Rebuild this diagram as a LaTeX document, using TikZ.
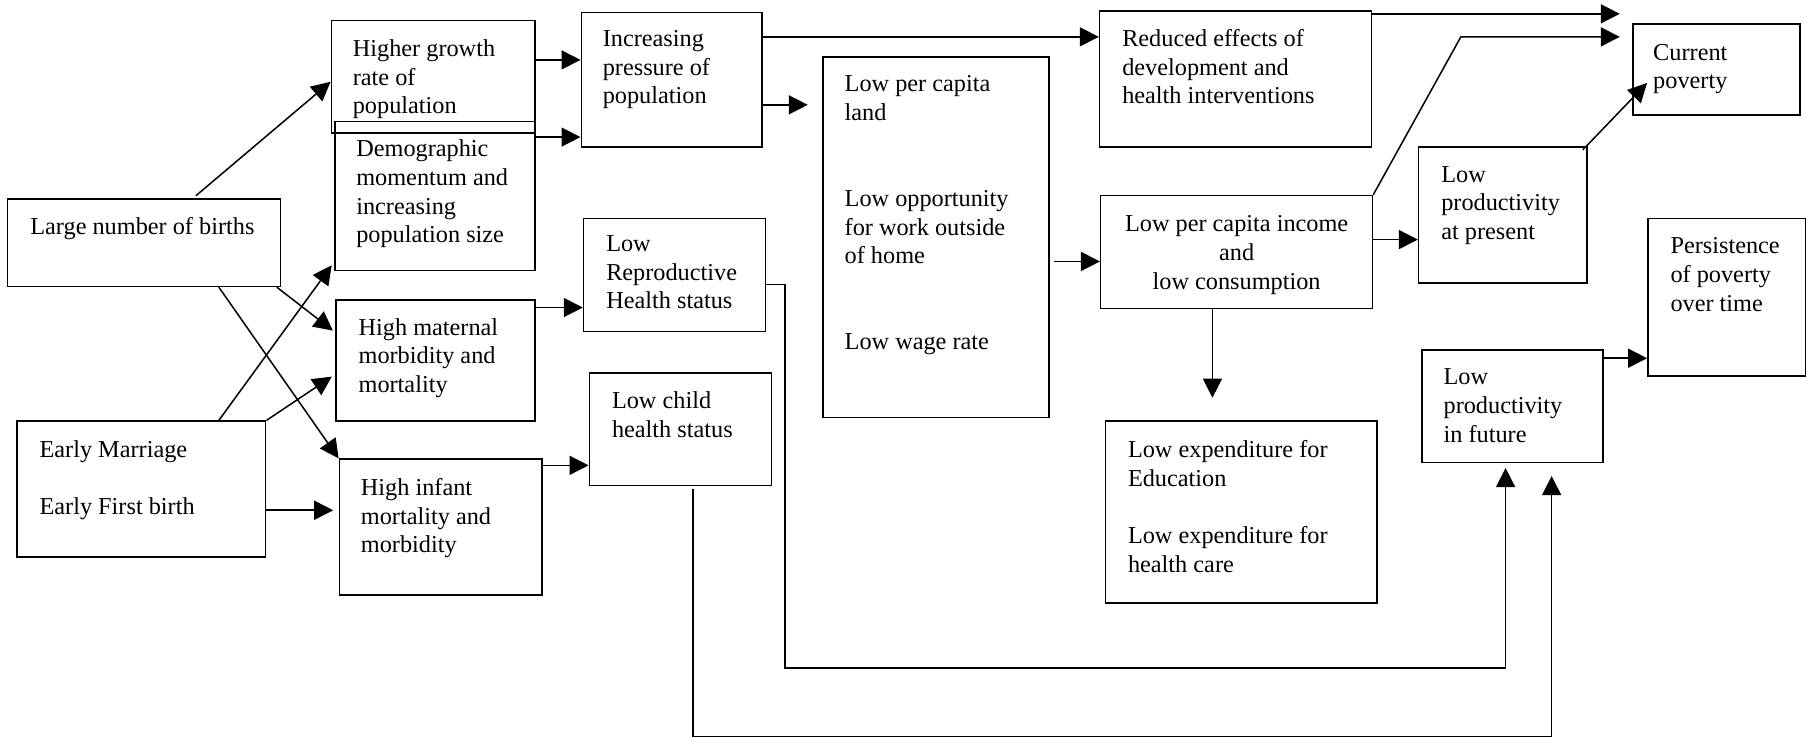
\documentclass[tikz,border=0pt]{standalone}
\usepackage{fontspec}
\setmainfont{Liberation Serif}
\usetikzlibrary{arrows.meta}

\begin{document}
\begin{tikzpicture}[x=0.02cm,y=-0.02cm]
\tikzstyle{every node}+=[inner sep=0pt]
\tikzset{box/.style 2 args={draw=black, line width=0.75pt, anchor=north west, minimum width=#1*0.02cm, minimum height=#2*0.02cm}}
\tikzstyle{txt}=[font=\fontsize{12}{14.2}\selectfont, align=left, anchor=north west]
\tikzstyle{arr}=[line width=0.75pt, -{Triangle[length=0.33cm,width=0.33cm]}]
\useasboundingbox (0,0) rectangle (1568,640);
% boxes
\node [box={237}{76}] (births) at (6,172) {};
\node [box={177}{98}] (growth) at (287,17) {};
\node [box={174}{129}] (demog) at (290,105) {};
\node [box={157}{117}] (inc) at (504,10) {};
\node [box={196}{313}] (land) at (714,49) {};
\node [box={236}{118}] (reduced) at (954,9) {};
\node [box={236}{98}] (income) at (955,169) {};
\node [box={146}{118}] (present) at (1231,127) {};
\node [box={145}{79}] (current) at (1417,20) {};
\node [box={137}{137}] (persist) at (1430,189) {};
\node [box={157}{98}] (future) at (1234,303) {};
\node [box={236}{158}] (expend) at (959,365) {};
\node [box={158}{98}] (repro) at (506,189) {};
\node [box={158}{98}] (child) at (511,323) {};
\node [box={173}{105}] (maternal) at (291,260) {};
\node [box={176}{118}] (infant) at (294,398) {};
\node [box={216}{118}] (early) at (14,365) {};
% texts
\node [txt] (births-t) at ([shift={(20,16)}]births.north west) {Large number of births};
\node [txt] (growth-t) at ([shift={(19,17)}]growth.north west) {Higher growth\\rate of\\population};
\node [txt] (demog-t) at ([shift={(19,16)}]demog.north west) {Demographic\\momentum and\\increasing\\population size};
\node [txt] (inc-t) at ([shift={(19,16)}]inc.north west) {Increasing\\pressure of\\population};
\node [txt] (land-t) at ([shift={(19,16)}]land.north west) {Low per capita\\land\\[28.4pt]Low opportunity\\for work outside\\of home\\[28.4pt]Low wage rate};
\node [txt] (reduced-t) at ([shift={(20,16)}]reduced.north west) {Reduced effects of\\development and\\health interventions};
\node [txt, align=center, anchor=north] (income-t) at ([shift={(0,18)}]income.north) {Low per capita income\\and\\low consumption};
\node [txt] (present-t) at ([shift={(20,17)}]present.north west) {Low\\productivity\\at present};
\node [txt] (current-t) at ([shift={(18,18)}]current.north west) {Current\\poverty};
\node [txt] (persist-t) at ([shift={(20,17)}]persist.north west) {Persistence\\of poverty\\over time};
\node [txt] (future-t) at ([shift={(19,17)}]future.north west) {Low\\productivity\\in future};
\node [txt] (expend-t) at ([shift={(20,17)}]expend.north west) {Low expenditure for\\Education\\[14.2pt]Low expenditure for\\health care};
\node [txt] (repro-t) at ([shift={(20,15)}]repro.north west) {Low\\Reproductive\\Health status};
\node [txt] (child-t) at ([shift={(20,17)}]child.north west) {Low child\\health status};
\node [txt] (maternal-t) at ([shift={(20,16)}]maternal.north west) {High maternal\\morbidity and\\mortality};
\node [txt] (infant-t) at ([shift={(19,17)}]infant.north west) {High infant\\mortality and\\morbidity};
\node [txt] (early-t) at ([shift={(20,17)}]early.north west) {Early Marriage\\[14.2pt]Early First birth};
% arrows
\draw [arr] ([shift={(164,-2)}]births.north west) -- ([shift={(0,54)}]growth.north west);
\draw [arr] ([shift={(0,35)}]growth.north east) coordinate (b1) -- (b1 -| inc.west);
\draw [arr] ([shift={(0,14)}]demog.north east) coordinate (c1) -- (c1 -| inc.west);
\draw [arr] ([shift={(0,22)}]inc.north east) coordinate (d1) -- (d1 -| reduced.west);
\draw [arr] ([shift={(0,81)}]inc.north east) -- ++(39,0);
\draw [arr] ([shift={(4,178)}]land.north east) coordinate (f1) -- (f1 -| income.west);
\draw [arr] ([shift={(0,3)}]reduced.north east) -- ++(215,0);
\draw [arr] (income.north east) -- ++(76,-137) -- ++(138,0);
\draw [arr] ([shift={(0,39)}]income.north east) coordinate (i1) -- (i1 -| present.west);
\draw [arr] ([shift={(-4,3)}]present.north east) -- ([shift={(13,52)}]current.north west);
\draw [arr] ([shift={(-21,0)}]income.south) -- ++(0,77);
\draw [arr] ([shift={(0,8)}]future.north east) coordinate (l1) -- (l1 -| persist.west);
\draw [arr] ([shift={(0,58)}]repro.north east) -- ++(16,0) -- ++(0,333) -| ([shift={(-6,4)}]future.south);
\draw [arr] ([shift={(11,2)}]child.south) -- ++(0,215) -| ([shift={(34,11)}]future.south);
\draw [arr] ([shift={(184,0)}]births.south west) -- (infant.north west);
\draw [arr] ([shift={(-4,0)}]births.south east) -- ([shift={(-2,27)}]maternal.north west);
\draw [arr] ([shift={(176,0)}]early.north west) -- ([shift={(-2,-5)}]demog.south west);
\draw [arr] (early.north east) -- ([shift={(-3,67)}]maternal.north west);
\draw [arr] ([shift={(0,78)}]early.north east) -- ++(58,0);
\draw [arr] ([shift={(0,7)}]maternal.north east) coordinate (t1) -- (t1 -| repro.west);
\draw [arr] ([shift={(0,6)}]infant.north east) coordinate (u1) -- (u1 -| child.west);
\end{tikzpicture}
\end{document}
